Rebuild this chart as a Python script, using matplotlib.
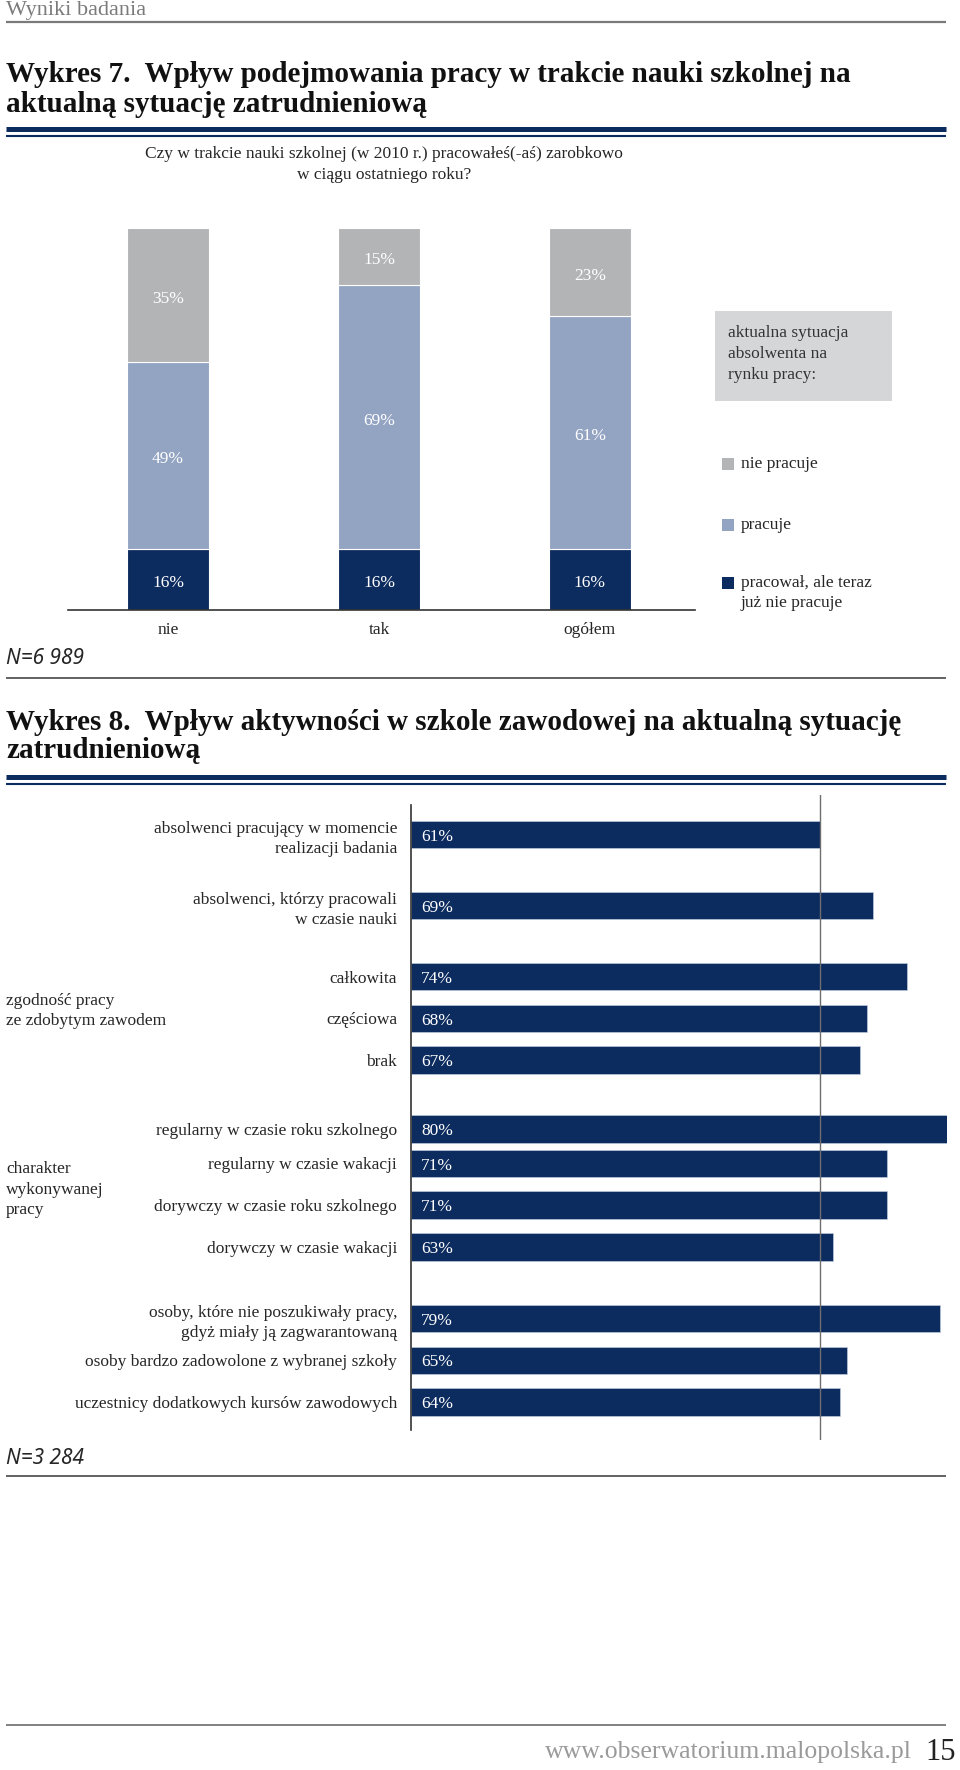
import matplotlib
matplotlib.use("Agg")
import matplotlib.pyplot as plt
from matplotlib.lines import Line2D
from matplotlib.patches import Rectangle

# ---------------- data ----------------
cats7 = ["nie", "tak", "ogółem"]
series7_names = ["pracował, ale teraz\njuż nie pracuje", "pracuje", "nie pracuje"]
dark7 = [16, 16, 16]
work7 = [49, 69, 61]
notwork7 = [35, 15, 23]
n7 = "N=6 989"

labels8 = [
    "absolwenci pracujący w momencie\nrealizacji badania",
    "absolwenci, którzy pracowali\nw czasie nauki",
    "całkowita",
    "częściowa",
    "brak",
    "regularny w czasie roku szkolnego",
    "regularny w czasie wakacji",
    "dorywczy w czasie roku szkolnego",
    "dorywczy w czasie wakacji",
    "osoby, które nie poszukiwały pracy,\ngdyż miały ją zagwarantowaną",
    "osoby bardzo zadowolone z wybranej szkoły",
    "uczestnicy dodatkowych kursów zawodowych",
]
values8 = [61, 69, 74, 68, 67, 80, 71, 71, 63, 79, 65, 64]
ref8 = 61
groups8 = ["zgodność pracy\nze zdobytym zawodem", "charakter\nwykonywanej\npracy"]
n8 = "N=3 284"

# ---------------- layout / style ----------------
W, H = 960, 1770
NAVY = "#0c2b5e"
LBLUE = "#93a3c2"
GRAY = "#b3b4b6"
BOXG = "#d5d6d8"
TXT = "#262626"
SERIF = ["Liberation Serif", "DejaVu Serif"]
FS = 12.5

plt.rcParams["font.family"] = SERIF

fig = plt.figure(figsize=(W / 100, H / 100), dpi=100)
fig.patch.set_facecolor("white")


def fx(x):
    return x / W


def fy(y):
    return 1 - y / H


def hline(y, x0, x1, color, lw):
    fig.add_artist(Line2D([fx(x0), fx(x1)], [fy(y), fy(y)], transform=fig.transFigure,
                          color=color, lw=lw, solid_capstyle="butt"))


def ftext(x, y, s, **kw):
    fig.text(fx(x), fy(y), s, **kw)


# header
ftext(6, 11, "Wyniki badania", fontsize=16, color="#7a7a7a", va="center")
hline(21.5, 6, 946, "#7a7a7a", 1.6)

# title 7
tkw = dict(fontsize=21, fontweight="bold", color="#111111", va="center")
ftext(6, 74.5, "Wykres 7.  Wpływ podejmowania pracy w trakcie nauki szkolnej na", **tkw)
ftext(6, 105, "aktualną sytuację zatrudnieniową", **tkw)
hline(129, 6, 946, NAVY, 3.6)
hline(135.8, 6, 946, NAVY, 1.5)

ftext(384, 153.6, "Czy w trakcie nauki szkolnej (w 2010 r.) pracowałeś(-aś) zarobkowo",
      fontsize=FS, color=TXT, ha="center", va="center")
ftext(384, 175, "w ciągu ostatniego roku?", fontsize=FS, color=TXT, ha="center", va="center")

# ---------------- chart 7 ----------------
ax1 = fig.add_axes([fx(68), fy(610), fx(695) - fx(68), (610 - 228) / H])
xs = list(range(len(cats7)))
bw = 0.391
cols7 = [NAVY, LBLUE, GRAY]
bottom = [0] * len(cats7)
for vals, col in zip([dark7, work7, notwork7], cols7):
    ax1.bar(xs, vals, bw, bottom=bottom, color=col, edgecolor="white", linewidth=0.8)
    for x, v, b in zip(xs, vals, bottom):
        ax1.text(x, b + v / 2 - 1, f"{v}%", ha="center", va="center", color="white", fontsize=FS)
    bottom = [b + v for b, v in zip(bottom, vals)]
ax1.set_xlim(-0.474, 2.498)
ax1.set_ylim(0, 100)
for s in ["top", "right", "left"]:
    ax1.spines[s].set_visible(False)
ax1.spines["bottom"].set_color("#333333")
ax1.spines["bottom"].set_linewidth(1.2)
ax1.set_yticks([])
ax1.set_xticks(xs)
ax1.set_xticklabels(cats7, fontsize=FS, color=TXT)
ax1.tick_params(axis="x", length=0, pad=9)

# legend box
fig.add_artist(Rectangle((fx(715), fy(401)), fx(892) - fx(715), (401 - 310.6) / H,
                         transform=fig.transFigure, facecolor=BOXG, edgecolor="none"))
for y, s in zip([333, 354, 375], ["aktualna sytuacja", "absolwenta na", "rynku pracy:"]):
    ftext(728, y, s, fontsize=FS, color="#333333", va="center")
leg_y = [464, 525, 583]
for y, name, col in zip(leg_y, series7_names[::-1], cols7[::-1]):
    fig.add_artist(Rectangle((fx(722), fy(y + 6)), fx(734) - fx(722), 12 / H,
                             transform=fig.transFigure, facecolor=col, edgecolor="none"))
    for i, line in enumerate(name.split("\n")):
        ftext(741, y + i * 20, line, fontsize=FS, color=TXT, va="center")

ftext(6, 659, n7, fontsize=15, color=TXT, va="center", style="italic",
      family=["Noto Sans", "DejaVu Sans"])
hline(677.6, 6, 946, "#555555", 1.3)

# title 8
ftext(6, 723, "Wykres 8.  Wpływ aktywności w szkole zawodowej na aktualną sytuację", **tkw)
ftext(6, 751, "zatrudnieniową", **tkw)
hline(777, 6, 946, NAVY, 3.6)
hline(784, 6, 946, NAVY, 1.5)

# ---------------- chart 8 ----------------
steps = [1.7, 1.7, 1, 1, 1.64, 0.83, 1, 1, 1.71, 1, 1]
pos = [0.0]
for s in steps:
    pos.append(pos[-1] + s)

ax2 = fig.add_axes([fx(411), fy(1440), fx(947) - fx(411), (1440 - 795) / H])
ax2.barh(pos, values8, height=0.66, color=NAVY, edgecolor="#c9d3e6", linewidth=0.4)
ax2.set_xlim(0, 80)
ax2.set_ylim(14.486, -0.945)
for s in ["top", "right", "left", "bottom"]:
    ax2.spines[s].set_visible(False)
ax2.axvline(ref8, color="#6e6e6e", lw=1.0, zorder=3)
ax2.plot([0, 0], [0.0155, 0.9845], transform=ax2.transAxes, color="#333333", lw=1.2,
         clip_on=False)
for p, v in zip(pos, values8):
    ax2.text(1.5, p + 0.05, f"{v}%", color="white", fontsize=FS, va="center", ha="left")
ax2.set_xticks([])
ax2.set_yticks(pos)
ax2.set_yticklabels(labels8, fontsize=FS, color=TXT, linespacing=1.35)
ax2.tick_params(axis="y", length=0, pad=10)

# group labels
for (y0, txt) in zip([1000.6, 1169], groups8):
    for i, line in enumerate(txt.split("\n")):
        ftext(6, y0 + i * 20.5, line, fontsize=FS, color=TXT, va="center")

ftext(6, 1459, n8, fontsize=15, color=TXT, va="center", style="italic",
      family=["Noto Sans", "DejaVu Sans"])
hline(1476, 6, 946, "#555555", 1.3)

# footer
hline(1725, 6, 946, "#777777", 1.3)
ftext(912, 1752, "www.obserwatorium.malopolska.pl", fontsize=18.5, color="#9a9a9a",
      ha="right", va="center")
ftext(925, 1752, "15", fontsize=22, color="#222222", ha="left", va="center")

fig.savefig("out.png", dpi=100, facecolor="white")
